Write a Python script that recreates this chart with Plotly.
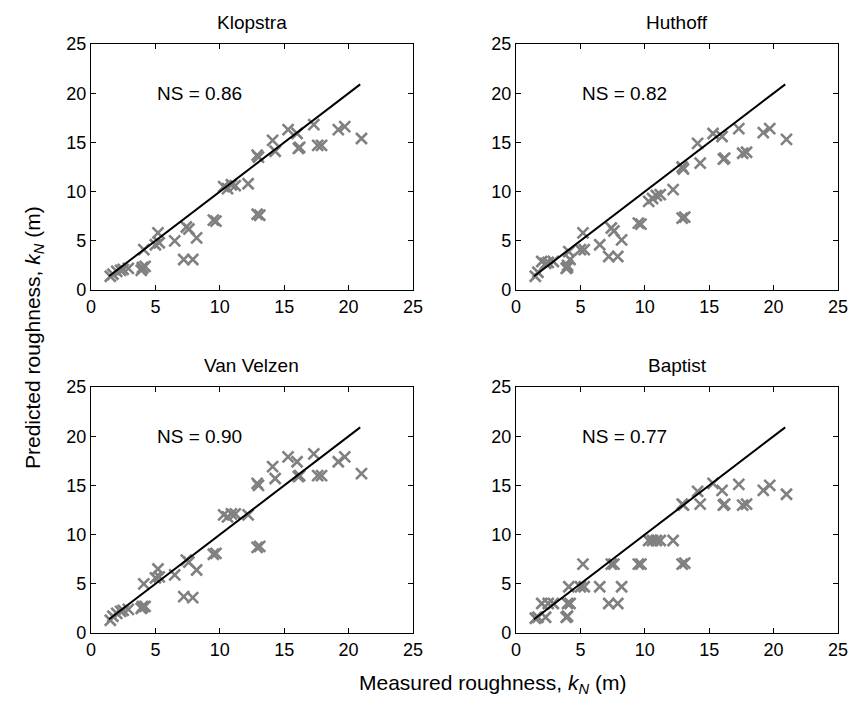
import plotly.graph_objects as go

# Measured roughness k_N (m), shared by all panels
measured = [1.5, 1.7, 2.0, 2.3, 2.5, 2.9, 3.9, 4.0, 4.1, 4.2, 4.0, 5.0, 5.2, 5.3,
            6.5, 7.2, 7.4, 7.6, 7.9, 8.2, 9.5, 9.7, 10.3, 10.6, 10.9, 11.2, 12.2,
            12.9, 13.0, 12.9, 13.1, 14.1, 14.3, 15.3, 16.0, 16.1, 16.2, 17.3, 17.6,
            17.9, 19.2, 19.7, 21.0]

pred_klopstra = [1.4, 1.6, 1.9, 2.0, 2.1, 2.2, 2.0, 2.3, 4.1, 2.4, 2.2, 4.6, 5.8, 4.8,
                 5.0, 3.1, 6.4, 6.2, 3.1, 5.3, 7.1, 7.0, 10.5, 10.3, 10.7, 10.6, 10.8,
                 13.7, 13.5, 7.7, 7.6, 15.2, 14.1, 16.3, 15.9, 14.4, 14.5, 16.8, 14.7,
                 14.7, 16.3, 16.6, 15.4]

pred_huthoff = [1.4, 1.8, 2.9, 2.7, 2.8, 2.9, 2.2, 2.5, 3.9, 3.1, 2.3, 4.1, 5.8, 4.1,
                4.6, 3.4, 6.3, 6.0, 3.4, 5.1, 6.8, 6.7, 9.0, 9.3, 9.6, 9.7, 10.2,
                12.5, 12.3, 7.3, 7.4, 14.9, 12.9, 15.9, 15.6, 13.3, 13.4, 16.4, 13.9,
                14.0, 16.0, 16.4, 15.3]

pred_vanvelzen = [1.3, 1.7, 2.0, 2.2, 2.3, 2.4, 2.5, 2.7, 5.0, 2.7, 2.6, 5.6, 6.5, 5.7,
                  5.9, 3.7, 7.4, 7.2, 3.6, 6.4, 8.0, 8.1, 12.0, 11.8, 12.1, 12.1, 12.0,
                  15.2, 15.0, 8.7, 8.8, 16.9, 15.7, 17.9, 17.4, 15.9, 16.0, 18.2, 16.0,
                  16.0, 17.4, 17.9, 16.2]

pred_baptist = [1.5, 1.6, 3.0, 1.6, 3.0, 3.0, 1.6, 1.7, 4.7, 3.0, 3.0, 4.7, 7.0, 4.7,
                4.7, 3.0, 7.0, 7.0, 3.0, 4.7, 7.0, 7.0, 9.4, 9.4, 9.4, 9.4, 9.4,
                13.1, 13.0, 7.0, 7.1, 14.4, 13.1, 15.2, 14.5, 13.0, 13.1, 15.1, 13.0,
                13.1, 14.5, 15.0, 14.1]

panel_titles = ["Klopstra", "Huthoff", "Van Velzen", "Baptist"]
ns_labels = ["NS = 0.86", "NS = 0.82", "NS = 0.90", "NS = 0.77"]
line_x = [1.4, 20.9]
line_y = [1.4, 20.9]
tick_vals = [0, 5, 10, 15, 20, 25]
tick_text = ["0", "5", "10", "15", "20", "25"]

W, H = 850, 701
# pixel boxes: (left, right, top, bottom)
boxes = [(91, 413, 44, 290), (516, 838, 44, 290),
         (91, 413, 387, 633), (516, 838, 387, 633)]

preds = [pred_klopstra, pred_huthoff, pred_vanvelzen, pred_baptist]
FONT = "Liberation Sans, Arial, Helvetica, sans-serif"
GRAY = "rgb(128,128,128)"

fig = go.Figure()
layout = dict(width=W, height=H, margin=dict(l=0, r=0, t=0, b=0, autoexpand=False),
              paper_bgcolor="white", plot_bgcolor="white", showlegend=False,
              font=dict(family=FONT, color="black", size=18))
annotations = []
for i, (pred, box) in enumerate(zip(preds, boxes)):
    n = "" if i == 0 else str(i + 1)
    xa, ya = "x" + n, "y" + n
    l, r, t, b = box
    fig.add_trace(go.Scatter(x=measured, y=pred, mode="markers", xaxis=xa, yaxis=ya,
                             marker=dict(symbol="x-thin", size=11,
                                         line=dict(width=2.6, color=GRAY), color=GRAY)))
    fig.add_trace(go.Scatter(x=line_x, y=line_y, mode="lines", xaxis=xa, yaxis=ya,
                             line=dict(color="black", width=2)))
    axcommon = dict(range=[0, 25], tickvals=tick_vals, ticktext=tick_text,
                    ticks="inside", ticklen=5, tickcolor="black", tickwidth=1,
                    showline=True, linecolor="black", linewidth=1.3, mirror="ticks",
                    showgrid=False, zeroline=False,
                    tickfont=dict(family=FONT, size=18, color="black"))
    layout["xaxis" + n] = dict(axcommon, domain=[l / W, r / W], anchor=ya)
    layout["yaxis" + n] = dict(axcommon, domain=[1 - b / H, 1 - t / H], anchor=xa)
    annotations.append(dict(text=panel_titles[i], x=(l + r) / 2 / W, y=1 - (t - 21) / H,
                            xref="paper", yref="paper", showarrow=False,
                            font=dict(family=FONT, size=19), xanchor="center", yanchor="middle"))
    annotations.append(dict(text=ns_labels[i], x=5.0, y=20.0, xref=xa, yref=ya,
                            showarrow=False, xanchor="left", yanchor="middle",
                            font=dict(family=FONT, size=19)))

annotations.append(dict(text="Measured roughness, <i>k</i><sub><i>N</i></sub> (m)",
                        x=357 / W, y=1 - 684 / H, xref="paper", yref="paper",
                        showarrow=False, xanchor="left", yanchor="middle",
                        font=dict(family=FONT, size=21)))
annotations.append(dict(text="Predicted roughness, <i>k</i><sub><i>N</i></sub> (m)",
                        x=34 / W, y=1 - 338 / H, xref="paper", yref="paper",
                        showarrow=False, xanchor="center", yanchor="middle", textangle=-90,
                        font=dict(family=FONT, size=21)))
layout["annotations"] = annotations
fig.update_layout(**layout)
fig.write_html("out.html", config={"displayModeBar": False},
               post_script="document.body.style.margin='0';document.body.style.overflow='hidden';")
